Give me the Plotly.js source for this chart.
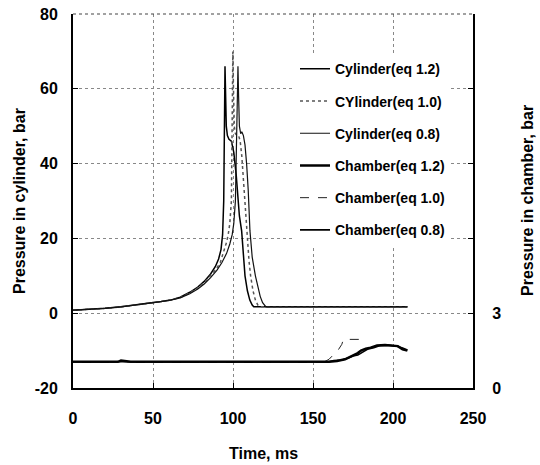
<!DOCTYPE html>
<html>
<head>
<meta charset="utf-8">
<script src="https://cdn.plot.ly/plotly-3.0.1.min.js"></script>
<style>html,body{margin:0;padding:0;background:#fff;}#chart{width:540px;height:465px;}</style>
</head>
<body>
<div id="chart"></div>
<script>
// ---- data ----
var cyl12_x = [0, 10, 20, 30, 40, 48, 55, 61, 67, 73, 78, 82, 86, 89, 91, 92.5, 93.5, 94.2, 94.6, 95, 95.4, 95.8, 96.5, 97.5, 99, 100.5, 102, 103, 104, 105.4, 106.5, 107.5, 109, 110.5, 112, 113, 130, 160, 190, 209];
var cyl12_y = [0.8, 1.0, 1.3, 1.7, 2.2, 2.7, 3.1, 3.5, 4.3, 5.6, 7.0, 8.5, 10.5, 12.5, 14.5, 17, 21, 30, 55, 66, 58, 50, 47.5, 46.5, 46, 43, 37, 31, 26, 22, 15, 10, 6, 3.5, 2.2, 1.7, 1.7, 1.7, 1.7, 1.7];

var cyl10_x = [0, 10, 20, 30, 40, 48, 55, 61, 67, 73, 78, 82, 86, 89, 92, 94, 96, 97, 98, 99, 99.5, 99.9, 100.3, 100.8, 101.5, 102.5, 103.5, 104.5, 105.5, 106.5, 107.5, 108.5, 110, 111, 112.5, 114, 115.5, 117, 140, 170, 209];
var cyl10_y = [0.8, 1.0, 1.3, 1.7, 2.2, 2.7, 3.1, 3.5, 4.2, 5.4, 6.8, 8.2, 10, 11.5, 13.5, 16, 19, 21, 24, 30, 50, 70, 60, 50, 48, 47.5, 47.5, 46, 42, 36, 29, 22, 14, 10, 6, 3.5, 2.2, 1.7, 1.7, 1.7, 1.7];

var cyl08_x = [0, 10, 20, 30, 40, 48, 55, 61, 67, 73, 78, 82, 86, 90, 93, 96, 98, 99.5, 100.5, 101.5, 102.2, 102.7, 103.1, 103.5, 104, 104.8, 105.5, 106.5, 107.5, 108.5, 109.5, 110.6, 112, 114, 115.5, 117, 118.5, 120.6, 150, 180, 209];
var cyl08_y = [0.8, 1.0, 1.3, 1.7, 2.2, 2.7, 3.1, 3.5, 4.1, 5.2, 6.5, 7.8, 9.5, 11.5, 13.5, 16, 18.5, 21, 24, 30, 45, 60, 66, 58, 50, 48, 48.5, 47.5, 45, 40, 33, 22, 15, 10, 7, 4.5, 2.8, 1.7, 1.7, 1.7, 1.7];

var ch12_x = [0, 28, 30, 33, 36, 160, 165, 170, 175, 178, 180, 183, 186, 190, 195, 200, 203, 206, 209];
var ch12_y = [1.05, 1.05, 1.1, 1.08, 1.05, 1.05, 1.08, 1.15, 1.3, 1.4, 1.5, 1.58, 1.62, 1.7, 1.72, 1.7, 1.68, 1.55, 1.5];

var ch10_x = [0, 157, 160, 163, 166, 168, 169, 179.5];
var ch10_y = [1.05, 1.05, 1.15, 1.35, 1.55, 1.75, 1.95, 1.95];

var ch08_x = [0, 160, 163, 168, 172, 175, 178, 181, 184, 188, 192, 197, 202, 206, 209];
var ch08_y = [1.05, 1.05, 1.1, 1.12, 1.2, 1.28, 1.32, 1.42, 1.55, 1.62, 1.7, 1.72, 1.68, 1.6, 1.52];

var seriesNames = ["Cylinder(eq 1.2)", "CYlinder(eq 1.0)", "Cylinder(eq 0.8)", "Chamber(eq 1.2)", "Chamber(eq 1.0)", "Chamber(eq 0.8)"];
var xTicks = [0, 50, 100, 150, 200, 250];
var yTicks = [-20, 0, 20, 40, 60, 80];
var y2Ticks = [0, 3, 6, 9, 12, 15];
var y2TickText = ["0", "3", "", "", "", ""];

var FONT = "'Liberation Sans', Arial, sans-serif";

function tr(x, y, name, axis, line, g) {
  return {x: x, y: y, name: name, yaxis: axis, type: 'scatter', mode: 'lines',
          line: line, legendgroup: g, hoverinfo: 'skip'};
}

var data = [
  tr(cyl12_x, cyl12_y, seriesNames[0], 'y', {color: '#000', width: 1.5}, 'a'),
  tr(cyl10_x, cyl10_y, seriesNames[1], 'y', {color: '#555', width: 1.5, dash: 'dot'}, 'b'),
  tr(cyl08_x, cyl08_y, seriesNames[2], 'y', {color: '#111', width: 1.2}, 'c'),
  tr(ch12_x, ch12_y, seriesNames[3], 'y2', {color: '#000', width: 2.5}, 'd'),
  tr(ch10_x, ch10_y, seriesNames[4], 'y2', {color: '#222', width: 1, dash: 'dash'}, 'e'),
  tr(ch08_x, ch08_y, seriesNames[5], 'y2', {color: '#000', width: 1.6}, 'f')
];

var tickFont = {family: FONT, size: 16, color: '#000', weight: 'bold'};
var titleFont = {family: FONT, size: 16, color: '#000', weight: 'bold'};

var layout = {
  width: 540, height: 465,
  margin: {l: 73, r: 67, t: 14, b: 77, pad: 0},
  paper_bgcolor: '#fff', plot_bgcolor: '#fff',
  showlegend: true,
  legend: {
    x: 0.555, y: 0.895, xanchor: 'left', yanchor: 'top',
    bgcolor: '#fff', borderwidth: 0,
    font: {family: FONT, size: 14, color: '#000', weight: 'bold'},
    tracegroupgap: 11, traceorder: 'grouped'
  },
  xaxis: {
    range: [0, 250], tickvals: xTicks, ticktext: xTicks.map(String),
    ticks: 'inside', ticklen: 5, tickcolor: '#000',
    showline: true, linecolor: '#000', linewidth: 2,
    showgrid: true, gridcolor: '#888', griddash: 'dot', gridwidth: 1,
    zeroline: false, tickfont: tickFont, ticklabelstandoff: 15,
    fixedrange: true
  },
  yaxis: {
    range: [-20, 80], tickvals: yTicks, ticktext: yTicks.map(String),
    ticks: 'inside', ticklen: 5, tickcolor: '#000',
    showline: true, linecolor: '#000', linewidth: 2,
    showgrid: true, gridcolor: '#888', griddash: 'dot', gridwidth: 1,
    zeroline: false, tickfont: tickFont, ticklabelstandoff: 10,
    fixedrange: true
  },
  yaxis2: {
    range: [0, 15], tickvals: y2Ticks, ticktext: y2TickText,
    overlaying: 'y', side: 'right',
    ticks: 'inside', ticklen: 5, tickcolor: '#000',
    showline: true, linecolor: '#000', linewidth: 2,
    showgrid: false, zeroline: false, tickfont: tickFont, ticklabelstandoff: 14,
    fixedrange: true
  },
  shapes: [
    {type: 'line', xref: 'paper', yref: 'paper', x0: 0, x1: 1, y0: 1, y1: 1,
     line: {color: '#444', width: 1.2, dash: 'dot'}}
  ],
  annotations: [
    {text: 'Time, ms', xref: 'paper', yref: 'paper', x: 0.475, y: -0.176,
     xanchor: 'center', yanchor: 'middle', showarrow: false, font: titleFont},
    {text: 'Pressure in cylinder, bar', xref: 'paper', yref: 'paper', x: -0.135, y: 0.5,
     xanchor: 'center', yanchor: 'middle', showarrow: false, textangle: -90, font: titleFont},
    {text: 'Pressure in chamber, bar', xref: 'paper', yref: 'paper', x: 1.135, y: 0.5,
     xanchor: 'center', yanchor: 'middle', showarrow: false, textangle: -90, font: titleFont}
  ]
};

Plotly.newPlot('chart', data, layout, {displayModeBar: false, staticPlot: true});
</script>
</body>
</html>
